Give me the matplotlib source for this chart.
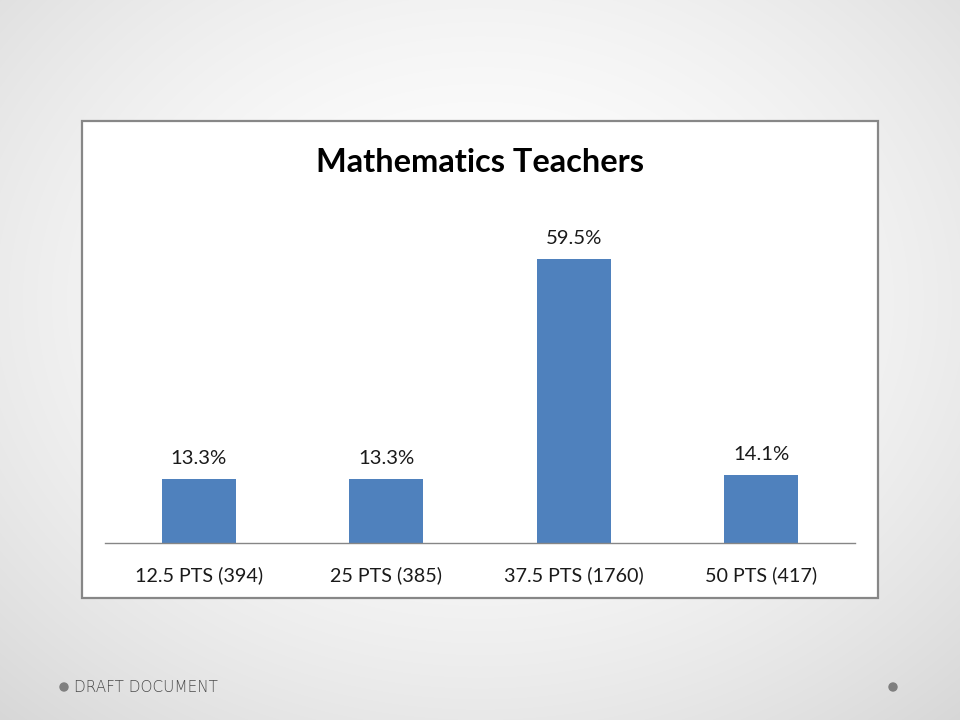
import numpy as np
import matplotlib
matplotlib.use("Agg")
import matplotlib.pyplot as plt
from matplotlib.patches import Rectangle, Circle

categories = ["12.5 PTS (394)", "25 PTS (385)", "37.5 PTS (1760)", "50 PTS (417)"]
values = [13.3, 13.3, 59.5, 14.1]
value_labels = ["13.3%", "13.3%", "59.5%", "14.1%"]
title = "Mathematics Teachers"
footer = "DRAFT DOCUMENT"

W, H = 960, 720
fig = plt.figure(figsize=(9.6, 7.2), dpi=100)

# radial gradient background
bg = fig.add_axes([0, 0, 1, 1])
yy, xx = np.mgrid[0:H, 0:W]
r = np.sqrt(((xx - 480) / 600.0) ** 2 + ((yy - 300) / 480.0) ** 2)
shade = np.clip(1.0 - 0.115 * r ** 1.8, 0, 1)
bg.imshow(np.dstack([shade, shade, shade]), extent=[0, W, H, 0], aspect="auto")
bg.set_xlim(0, W)
bg.set_ylim(H, 0)
bg.axis("off")

# white chart box
bg.add_patch(Rectangle((82, 121), 796, 477, facecolor="white", edgecolor="#878787", linewidth=1.6))

# title
bg.text(480, 162, title, ha="center", va="center", fontsize=23.4, fontweight="bold",
        family="Lato", color="#000000")

# footer
bg.add_patch(Circle((64, 687), 4, color="#7f7f7f"))
bg.add_patch(Circle((893, 687), 4, color="#7f7f7f"))
bg.text(74, 687.5, footer, ha="left", va="center", fontsize=11, family="DejaVu Sans",
        fontweight="light", color="#4a4a4a")

# chart axes
px_per_unit = (542.7 - 259) / 59.5
ymax = 70
top_px = 542.7 - ymax * px_per_unit
ax = fig.add_axes([105 / W, (H - 542.7) / H, 750 / W, (542.7 - top_px) / H])
ax.patch.set_alpha(0)
x = np.arange(len(categories))
ax.bar(x, values, width=0.395, color="#4f81bd")
ax.set_xlim(-0.5, 3.5)
ax.set_ylim(0, ymax)
for s in ["top", "right", "left"]:
    ax.spines[s].set_visible(False)
ax.spines["bottom"].set_color("#868686")
ax.spines["bottom"].set_linewidth(1.0)
ax.set_yticks([])
ax.set_xticks(x)
ax.set_xticklabels(categories, fontsize=14.2, family="Lato", color="#1a1a1a")
ax.tick_params(axis="x", length=0, pad=17)
for xi, v, lab in zip(x, values, value_labels):
    ax.annotate(lab, (xi, v), xytext=(0, 9), textcoords="offset points",
                ha="center", va="bottom", fontsize=14.6, family="Lato", color="#1a1a1a")

fig.savefig("out.png", dpi=100)
